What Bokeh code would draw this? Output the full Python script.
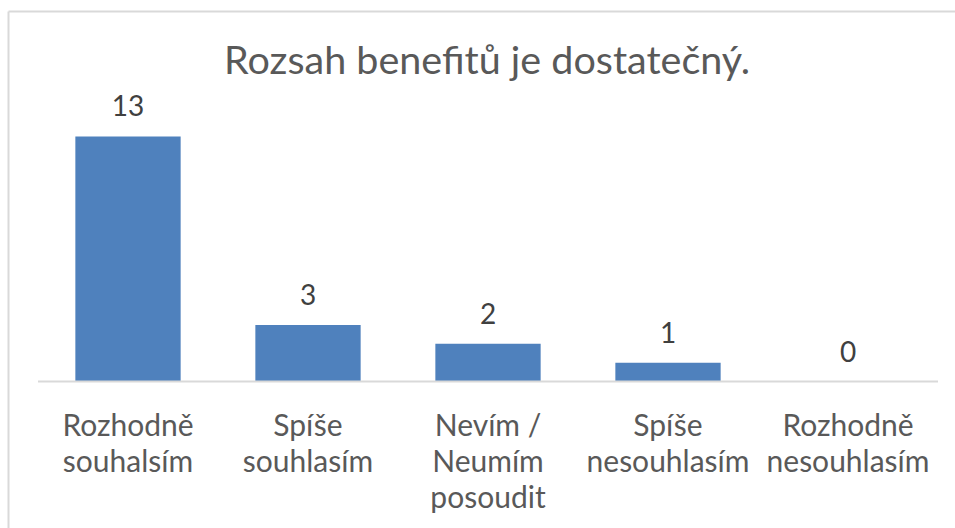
from bokeh.plotting import figure
from bokeh.models import ColumnDataSource, LabelSet, Range1d
from bokeh.core.properties import value
from bokeh.embed import file_html
from bokeh.resources import INLINE

categories = ["Rozhodně\nsouhalsím", "Spíše\nsouhlasím", "Nevím /\nNeumím\nposoudit",
              "Spíše\nnesouhlasím", "Rozhodně\nnesouhlasím"]
values = [13, 3, 2, 1, 0]
labels = [str(v) for v in values]
title_text = "Rozsah benefitů je dostatečný."

FONT = "Lato"

# ---- layout constants (page pixels; Bokeh's page template has no body margin) ----
W, H = 955, 528
ORIGIN = 0
PLOT_LEFT = 37.5         # page x of left edge of category band 0
BAND = 180.0             # px per category
BASE_Y = 381.0           # page y of value 0
PX_PER_UNIT = 18.85      # px per value unit
LINE_GAP = 36.0          # category label line spacing
FIRST_BASELINE = 54.0    # first category line baseline below value 0
TITLE_BASELINE = 73.0    # page y of title baseline


def x_at(px):
    return (px - PLOT_LEFT) / BAND


def y_at(py):
    return (BASE_Y - py) / PX_PER_UNIT


n = len(categories)
xs = [i + 0.5 for i in range(n)]

src = ColumnDataSource(dict(x=xs, val=values, lab=labels))

# one row per category label line, so that every line is centred on its bar
lx, ltext, loff = [], [], []
for x, cat in zip(xs, categories):
    for k, line in enumerate(cat.split("\n")):
        lx.append(x)
        ltext.append(line)
        loff.append(-FIRST_BASELINE - LINE_GAP * k)
cat_src = ColumnDataSource(dict(x=lx, y=[0] * len(lx), text=ltext, off=loff))

title_src = ColumnDataSource(dict(x=[n / 2 - 0.005], y=[y_at(TITLE_BASELINE)], text=[title_text]))

p = figure(width=W, height=H, output_backend="svg", toolbar_location=None,
           x_range=Range1d(x_at(ORIGIN), x_at(ORIGIN + W)),
           y_range=Range1d(y_at(ORIGIN + H), y_at(ORIGIN)),
           x_axis_type=None, y_axis_type=None,
           min_border=0, min_border_left=0, min_border_right=0,
           min_border_top=0, min_border_bottom=0)
p.grid.visible = False
p.outline_line_color = None
p.background_fill_color = "white"
p.border_fill_color = "white"

# chart border (left and top edges visible in the reference)
bx, by = x_at(8), y_at(11)
p.segment(x0=[bx, bx], y0=[by, by], x1=[x_at(W), bx], y1=[by, y_at(H)],
          line_color="#d9d9d9", line_width=2)

# bars
p.vbar(x="x", top="val", width=0.585, source=src, fill_color="#4F81BD", line_color=None)

# category baseline
p.segment(x0=[0], x1=[n], y0=[0], y1=[0], line_color="#d9d9d9", line_width=2)

# data labels
p.add_layout(LabelSet(x="x", y="val", text="lab", source=src, y_offset=20,
                      text_align="center", text_baseline="alphabetic",
                      text_font=value(FONT), text_font_size="28px",
                      text_color="#404040"))

# category labels
p.add_layout(LabelSet(x="x", y="y", text="text", source=cat_src, y_offset="off",
                      text_align="center", text_baseline="alphabetic",
                      text_font=value(FONT), text_font_size="30px",
                      text_color="#595959"))

# title
p.add_layout(LabelSet(x="x", y="y", text="text", source=title_src,
                      text_align="center", text_baseline="alphabetic",
                      text_font=value(FONT), text_font_size="39.5px",
                      text_color="#595959"))

open("out.html", "w").write(file_html(p, INLINE))
